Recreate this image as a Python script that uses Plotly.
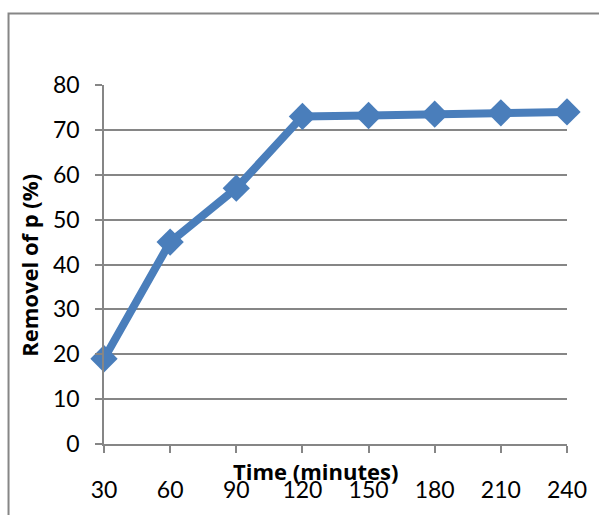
import plotly.graph_objects as go

time_min = [30, 60, 90, 120, 150, 180, 210, 240]
removal = [19, 45, 57, 73, 73.2, 73.5, 73.8, 74]
y_ticks = [0, 10, 20, 30, 40, 50, 60, 70, 80]

L, R, T, B = 104, 572, 85, 446
W, H = 599, 515
pw, ph = R - L, B - T

def px(x):
    return (x - L) / pw

def py(y):
    return (B - y) / ph

fig = go.Figure()
fig.add_trace(go.Scatter(
    x=time_min, y=removal, mode="lines+markers",
    line=dict(color="#4A7EBB", width=8),
    marker=dict(symbol="diamond", size=21, color="#4A7EBB"),
    cliponaxis=False, showlegend=False,
))

font = "Lato, 'Open Sans', sans-serif"
tfont = "'Open Sans', Lato, sans-serif"
fig.update_layout(
    width=W, height=H, autosize=False,
    margin=dict(l=L, r=W - R, t=T, b=H - B),
    paper_bgcolor="white", plot_bgcolor="white",
    font=dict(family=font, size=23, color="#000000"),
    xaxis=dict(range=[30, 240], tickvals=time_min, ticktext=[str(t) for t in time_min],
               showgrid=False, zeroline=False, showline=True, linecolor="#868686", linewidth=1.5,
               ticks="outside", ticklen=7, tickcolor="#868686", tickwidth=1.5,
               ticklabelstandoff=18),
    yaxis=dict(range=[0, 80], tickvals=y_ticks, showgrid=True, gridcolor="#868686", gridwidth=1.5,
               zeroline=False, showline=True, linecolor="#868686", linewidth=1.5,
               ticks="outside", ticklen=7, tickcolor="#868686", tickwidth=1.5,
               ticklabelstandoff=11),
    shapes=[dict(type="rect", xref="paper", yref="paper",
                 x0=px(7.5), x1=px(620), y0=py(13), y1=py(540),
                 line=dict(color="#868686", width=2), layer="below")],
    annotations=[
        dict(text="<b>Removel of p (%)</b>", xref="paper", yref="paper",
             x=px(28), y=py(266), xanchor="center", yanchor="middle",
             textangle=-90, showarrow=False,
             font=dict(family=tfont, size=22, color="#000")),
        dict(text="<b>Time (minutes)</b>", xref="paper", yref="paper",
             x=px(318), y=py(473), xanchor="center", yanchor="middle",
             showarrow=False,
             font=dict(family=tfont, size=22, color="#000")),
    ],
)
fig.write_html("out.html")
